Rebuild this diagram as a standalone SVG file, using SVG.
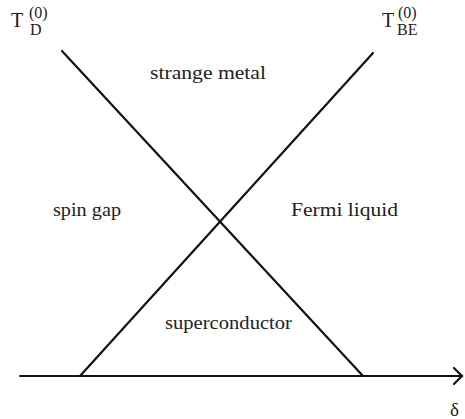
<svg xmlns="http://www.w3.org/2000/svg" width="465" height="419" viewBox="0 0 465 419">
<style>
.t{font-family:"Liberation Serif","Times New Roman",serif;fill:#222}
.lbl{font-size:19px}
.ln{stroke:#111;stroke-width:2.2;fill:none;stroke-linecap:round}
</style>
<rect width="465" height="419" fill="#fff"/>
<g id="connectors">
<line class="ln" x1="20" y1="376" x2="462" y2="376" stroke-width="1.8"/>
<polyline class="ln" points="454,368 462,376 454,384" stroke-width="1.6"/>
<line id="TD-line" class="ln" x1="62" y1="51" x2="363" y2="376"/>
<line id="TBE-line" class="ln" x1="80" y1="376" x2="373" y2="53"/>
</g>
<g id="TD">
<text class="t" x="11" y="27" font-size="20">T</text>
<text class="t" x="29" y="18" font-size="16">(0)</text>
<text class="t" x="30" y="35" font-size="16">D</text>
</g>
<g id="TBE">
<text class="t" x="382" y="27" font-size="20">T</text>
<text class="t" x="398" y="18" font-size="16">(0)</text>
<text class="t" x="397" y="35" font-size="16">BE</text>
</g>
<g id="strange-metal"><text class="t lbl" x="150" y="79" textLength="116" lengthAdjust="spacingAndGlyphs">strange  metal</text></g>
<g id="spin-gap"><text class="t lbl" x="53" y="216" textLength="68" lengthAdjust="spacingAndGlyphs">spin gap</text></g>
<g id="fermi-liquid"><text class="t lbl" x="291" y="216" textLength="107" lengthAdjust="spacingAndGlyphs">Fermi liquid</text></g>
<g id="superconductor"><text class="t lbl" x="165" y="329" textLength="127" lengthAdjust="spacingAndGlyphs">superconductor</text></g>
<g id="delta"><text class="t" x="450" y="416" font-size="19">δ</text></g>
</svg>
